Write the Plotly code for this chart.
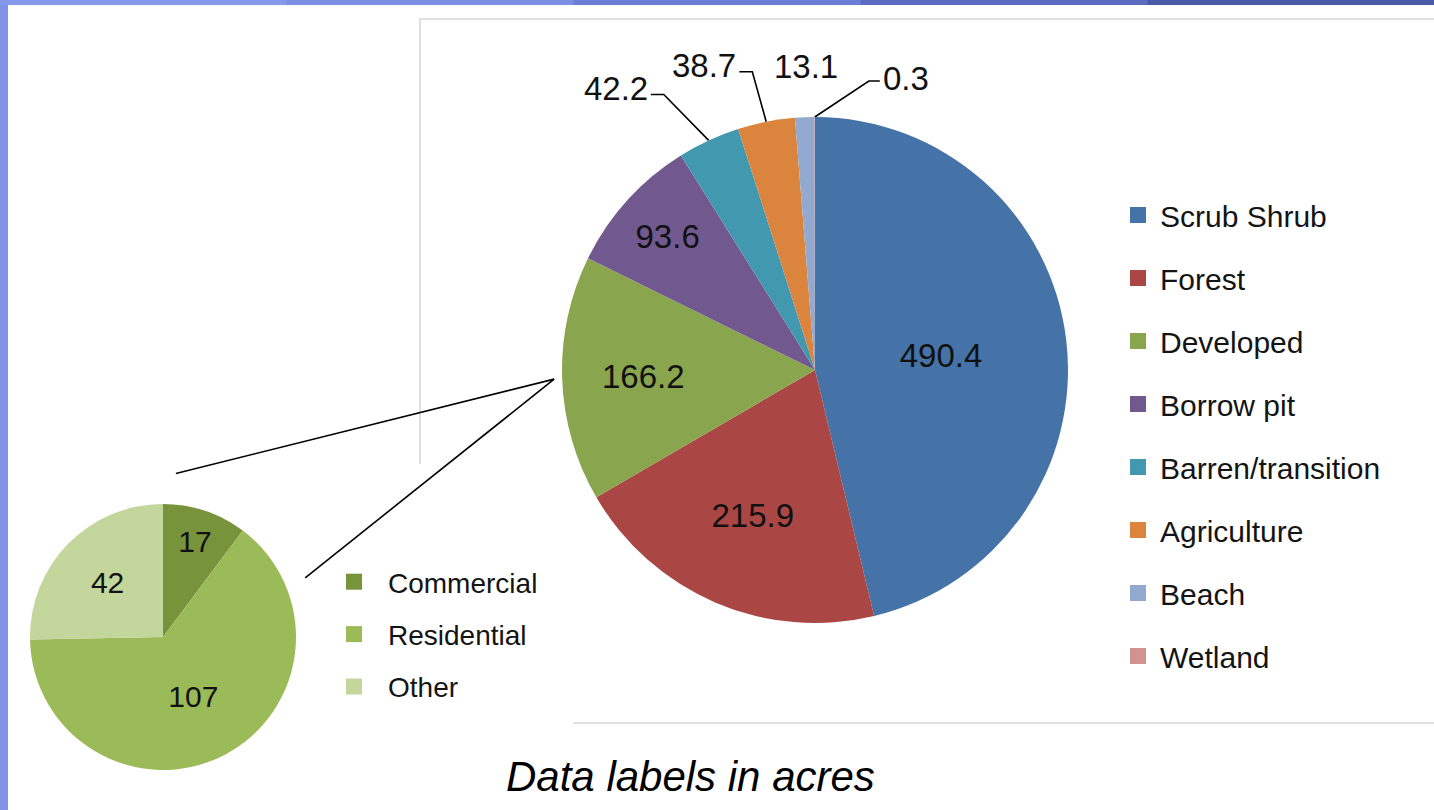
import numpy as np
import plotly.graph_objects as go

W, H = 1434, 810
FONT = "Liberation Sans, Arial, sans-serif"

# ---------------- data ----------------
categories = ["Scrub Shrub", "Forest", "Developed", "Borrow pit",
              "Barren/transition", "Agriculture", "Beach", "Wetland"]
acres = [490.4, 215.9, 166.2, 93.6, 42.2, 38.7, 13.1, 0.3]
colors = ["#4572A7", "#AA4643", "#89A54E", "#71588F",
          "#4198AF", "#DB843D", "#93A9CF", "#D19392"]

dev_categories = ["Commercial", "Residential", "Other"]
dev_acres = [17, 107, 42]
dev_colors = ["#77933C", "#9BBB59", "#C3D69B"]

caption = "Data labels in acres"

# ---------------- geometry / style (pixels) ----------------
MAIN_C, MAIN_R = (815.0, 370.0), 253.0
SUB_C, SUB_R = (163.0, 637.0), 133.0
LABEL_SIZE = 33

# placement of the outside labels relative to their slice edge: (dx, dy, side of label)
outside_offsets = {
    "Barren/transition": (-93, -52, "left"),
    "Agriculture": (-62, -56, "left"),
    "Beach": (1, -51, None),
    "Wetland": (91, -39, "right"),
}


def domain(c, r):
    return dict(x=[(c[0] - r) / W, (c[0] + r) / W],
                y=[1 - (c[1] + r) / H, 1 - (c[1] - r) / H])


def mid_angles(vals):
    v = np.asarray(vals, float)
    cum = np.cumsum(v)
    return (cum - v / 2) / v.sum() * 2 * np.pi  # clockwise from 12 o'clock


def polar(c, r, a):
    return c[0] + r * np.sin(a), c[1] - r * np.cos(a)


def text_w(s, size):
    return sum(0.278 if ch == "." else 0.556 for ch in s) * size


share = np.asarray(acres) / sum(acres)
main_textpos = ["inside" if s >= 0.05 else "none" for s in share]

fig = go.Figure()

# main pie
fig.add_trace(go.Pie(
    labels=categories, values=acres, sort=False, direction="clockwise", rotation=0,
    marker=dict(colors=colors, line=dict(width=0)),
    domain=domain(MAIN_C, MAIN_R),
    texttemplate="%{value}", textposition=main_textpos,
    insidetextorientation="horizontal",
    textfont=dict(size=LABEL_SIZE, color="#111111", family=FONT),
    showlegend=False, hoverinfo="label+value",
))

# breakdown pie of "Developed"
fig.add_trace(go.Pie(
    labels=dev_categories, values=dev_acres, sort=False, direction="clockwise", rotation=0,
    marker=dict(colors=dev_colors, line=dict(width=0)),
    domain=domain(SUB_C, SUB_R),
    texttemplate="%{value}", textposition="inside",
    insidetextorientation="horizontal",
    textfont=dict(size=30, color="#111111", family=FONT),
    showlegend=False, hoverinfo="label+value",
))

# legend entries
for name, col in zip(categories, colors):
    fig.add_trace(go.Scatter(x=[None], y=[None], mode="markers", name=name,
                             legendgroup=name, legend="legend",
                             marker=dict(symbol="square", size=16, color=col),
                             hoverinfo="skip"))
for name, col in zip(dev_categories, dev_colors):
    fig.add_trace(go.Scatter(x=[None], y=[None], mode="markers", name=name,
                             legendgroup="d_" + name, legend="legend2",
                             marker=dict(symbol="square", size=16, color=col),
                             hoverinfo="skip"))

# outside labels with leader lines
annotations = []
mids = mid_angles(acres)
for name, val, a in zip(categories, acres, mids):
    if name not in outside_offsets:
        continue
    dx, dy, side = outside_offsets[name]
    ex, ey = polar(MAIN_C, MAIN_R, a)
    lx, ly = ex + dx, ey + dy
    txt = f"{val:g}"
    annotations.append(dict(x=lx, y=ly, xref="x", yref="y", text=txt, showarrow=False,
                            font=dict(size=LABEL_SIZE, color="#111111", family=FONT)))
    tw = text_w(txt, LABEL_SIZE)
    if side == "left":
        px = [ex, lx + tw / 2 + 16, lx + tw / 2 + 3]
        py = [ey, ly + 6, ly + 6]
    elif side == "right":
        px = [ex, lx - tw / 2 - 14, lx - tw / 2 - 3]
        py = [ey, ly + 3, ly + 3]
    else:
        continue
    fig.add_trace(go.Scatter(x=px, y=py, mode="lines", line=dict(color="#000000", width=1.6),
                             showlegend=False, hoverinfo="skip"))

# connector lines from the "Developed" slice to the breakdown pie
dev_mid = mids[categories.index("Developed")]
cx, cy = polar(MAIN_C, MAIN_R + 8, dev_mid)
for ang, extra in [(np.radians(4.5), 31), (np.radians(67.4), 21)]:
    sx, sy = polar(SUB_C, SUB_R + extra, ang)
    fig.add_trace(go.Scatter(x=[sx, cx], y=[sy, cy], mode="lines",
                             line=dict(color="#000000", width=1.6),
                             showlegend=False, hoverinfo="skip"))

annotations.append(dict(x=690, y=776, xref="x", yref="y", text=caption, showarrow=False,
                        font=dict(size=42, color="#000000", family=FONT, style="italic")))

# background panels
shapes = [
    dict(type="rect", xref="x", yref="y", x0=8, y0=5, x1=W + 5, y1=H + 5,
         fillcolor="#ffffff", line=dict(width=0), layer="below"),
    dict(type="rect", xref="x", yref="y", x0=420, y0=19, x1=W + 10, y1=723,
         fillcolor="#ffffff", line=dict(color="#d6d6d6", width=1.5), layer="below"),
    dict(type="rect", xref="x", yref="y", x0=8, y0=464, x1=573, y1=H + 5,
         fillcolor="#ffffff", line=dict(width=0), layer="below"),
]
strip = ["#8499ea", "#7a8fe2", "#6a7ed4", "#5a6cc0", "#4a5aa8"]
seg = W / len(strip)
for i, col in enumerate(strip):
    shapes.append(dict(type="rect", xref="x", yref="y", x0=i * seg, y0=-2, x1=(i + 1) * seg, y1=5,
                       fillcolor=col, line=dict(width=0), layer="below"))

fig.update_layout(
    width=W, height=H, autosize=False,
    margin=dict(l=0, r=0, t=0, b=0),
    paper_bgcolor="#7f93e6", plot_bgcolor="rgba(0,0,0,0)",
    xaxis=dict(range=[0, W], visible=False, fixedrange=True),
    yaxis=dict(range=[H, 0], visible=False, fixedrange=True),
    shapes=shapes, annotations=annotations,
    legend=dict(x=1116 / W, y=1 - 189 / H, xanchor="left", yanchor="top",
                font=dict(size=30, family=FONT, color="#141414"),
                itemwidth=34, tracegroupgap=21, traceorder="grouped",
                bgcolor="rgba(0,0,0,0)", borderwidth=0),
    legend2=dict(x=320 / W, y=1 - 557 / H, xanchor="left", yanchor="top",
                 font=dict(size=28, family=FONT, color="#141414"),
                 itemwidth=58, tracegroupgap=13, traceorder="grouped",
                 bgcolor="rgba(0,0,0,0)", borderwidth=0),
    showlegend=True,
)

fig.write_html("out.html")
